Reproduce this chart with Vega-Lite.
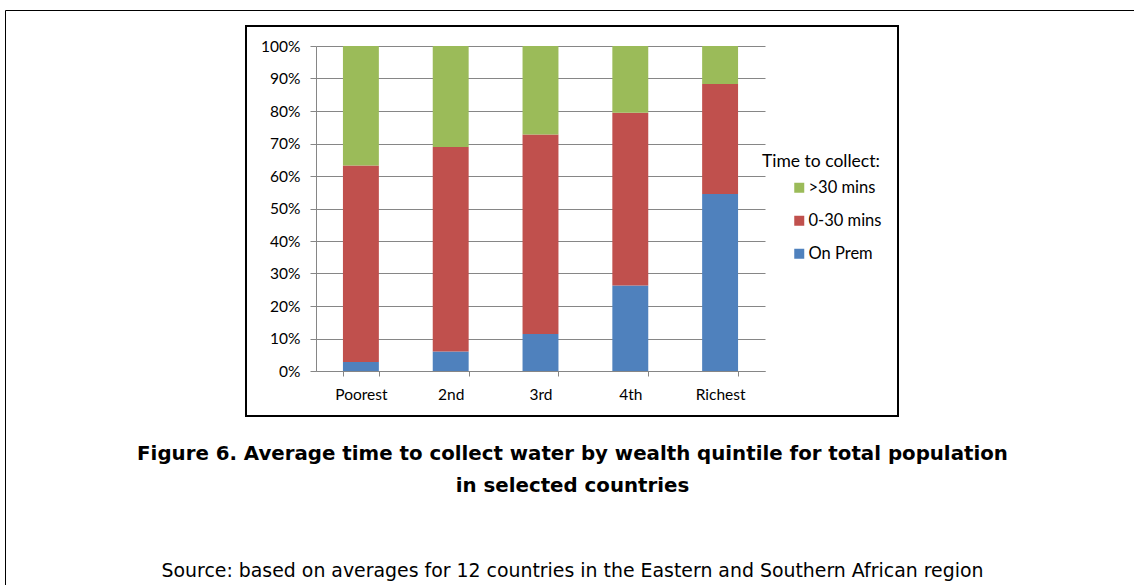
{
  "$schema": "https://vega.github.io/schema/vega-lite/v6.json",
  "width": 652,
  "height": 390,
  "autosize": {"type": "none"},
  "padding": {"left": 246, "top": 26, "right": 236, "bottom": 169},
  "background": "white",
  "config": {
    "view": {"stroke": "#000000", "strokeWidth": 2},
    "font": "Lato"
  },
  "data": {
    "values": [
      {"quintile": "Poorest", "time": "On Prem", "k": 1, "share": 0.028},
      {"quintile": "Poorest", "time": "0-30 mins", "k": 2, "share": 0.604},
      {"quintile": "Poorest", "time": ">30 mins", "k": 3, "share": 0.368},
      {"quintile": "2nd", "time": "On Prem", "k": 1, "share": 0.060},
      {"quintile": "2nd", "time": "0-30 mins", "k": 2, "share": 0.629},
      {"quintile": "2nd", "time": ">30 mins", "k": 3, "share": 0.311},
      {"quintile": "3rd", "time": "On Prem", "k": 1, "share": 0.114},
      {"quintile": "3rd", "time": "0-30 mins", "k": 2, "share": 0.614},
      {"quintile": "3rd", "time": ">30 mins", "k": 3, "share": 0.272},
      {"quintile": "4th", "time": "On Prem", "k": 1, "share": 0.263},
      {"quintile": "4th", "time": "0-30 mins", "k": 2, "share": 0.532},
      {"quintile": "4th", "time": ">30 mins", "k": 3, "share": 0.205},
      {"quintile": "Richest", "time": "On Prem", "k": 1, "share": 0.545},
      {"quintile": "Richest", "time": "0-30 mins", "k": 2, "share": 0.338},
      {"quintile": "Richest", "time": ">30 mins", "k": 3, "share": 0.117}
    ]
  },
  "mark": {"type": "bar"},
  "encoding": {
    "x": {
      "field": "quintile",
      "type": "nominal",
      "sort": ["Poorest", "2nd", "3rd", "4th", "Richest"],
      "title": ["Figure 6. Average time to collect water by wealth quintile for total population", "in selected countries"],
      "scale": {"range": [70, 519], "paddingInner": 0.6, "paddingOuter": 0.3},
      "axis": {
        "offset": -45,
        "labelAngle": 0,
        "grid": false,
        "domainColor": "#868686",
        "tickColor": "#868686",
        "tickSize": 5,
        "tickBand": "extent",
        "labelFont": "Lato",
        "labelFontSize": 15.5,
        "labelColor": "#000000",
        "labelPadding": 11,
        "titleFont": "DejaVu Sans",
        "titleFontSize": 19.8,
        "titleFontWeight": "bold",
        "titleColor": "#000000",
        "titleLineHeight": 32,
        "titleAlign": "center",
        "titleBaseline": "alphabetic",
        "titleAngle": 0,
        "titleX": 326,
        "titleY": 88
      }
    },
    "y": {
      "field": "share",
      "type": "quantitative",
      "stack": "zero",
      "title": "Source: based on averages for 12 countries in the Eastern and Southern African region",
      "scale": {"domain": [0, 1], "range": [345, 20], "nice": false},
      "axis": {
        "offset": -70,
        "values": [0, 0.1, 0.2, 0.3, 0.4, 0.5, 0.6, 0.7, 0.8, 0.9, 1],
        "format": ".0%",
        "grid": true,
        "gridColor": "#868686",
        "gridWidth": 1,
        "domainColor": "#868686",
        "tickColor": "#868686",
        "tickSize": 6,
        "labelFont": "Lato",
        "labelFontSize": 15.5,
        "labelColor": "#000000",
        "labelPadding": 10,
        "titleFont": "DejaVu Sans",
        "titleFontSize": 18.9,
        "titleFontWeight": "normal",
        "titleColor": "#000000",
        "titleAngle": 0,
        "titleAlign": "center",
        "titleBaseline": "alphabetic",
        "titleX": 256,
        "titleY": 550
      }
    },
    "order": {"field": "k", "type": "quantitative", "sort": "ascending"},
    "color": {
      "field": "time",
      "type": "nominal",
      "scale": {
        "domain": ["On Prem", "0-30 mins", ">30 mins"],
        "range": ["#4F81BD", "#C0504D", "#9BBB59"]
      },
      "legend": {
        "orient": "none",
        "legendX": 516,
        "legendY": 127,
        "padding": 0,
        "title": "Time to collect:",
        "titleFont": "Lato",
        "titleFontSize": 17.5,
        "titleFontWeight": "normal",
        "titleColor": "#000000",
        "titlePadding": 9,
        "values": [">30 mins", "0-30 mins", "On Prem"],
        "symbolType": "square",
        "symbolSize": 100,
        "symbolStrokeWidth": 0,
        "symbolOffset": 29,
        "labelFont": "Lato",
        "labelFontSize": 16.5,
        "labelColor": "#000000",
        "labelOffset": 1,
        "rowPadding": 16
      }
    },
    "strokeDash": {
      "field": "quintile",
      "type": "nominal",
      "scale": {"range": [[1, 0]]},
      "legend": {
        "orient": "none",
        "legendX": -241,
        "legendY": -16,
        "padding": 700,
        "strokeColor": "#000000",
        "title": null,
        "labelExpr": "''",
        "symbolSize": 0,
        "encode": {"legend": {"update": {"strokeWidth": {"value": 2}}}}
      }
    }
  }
}
